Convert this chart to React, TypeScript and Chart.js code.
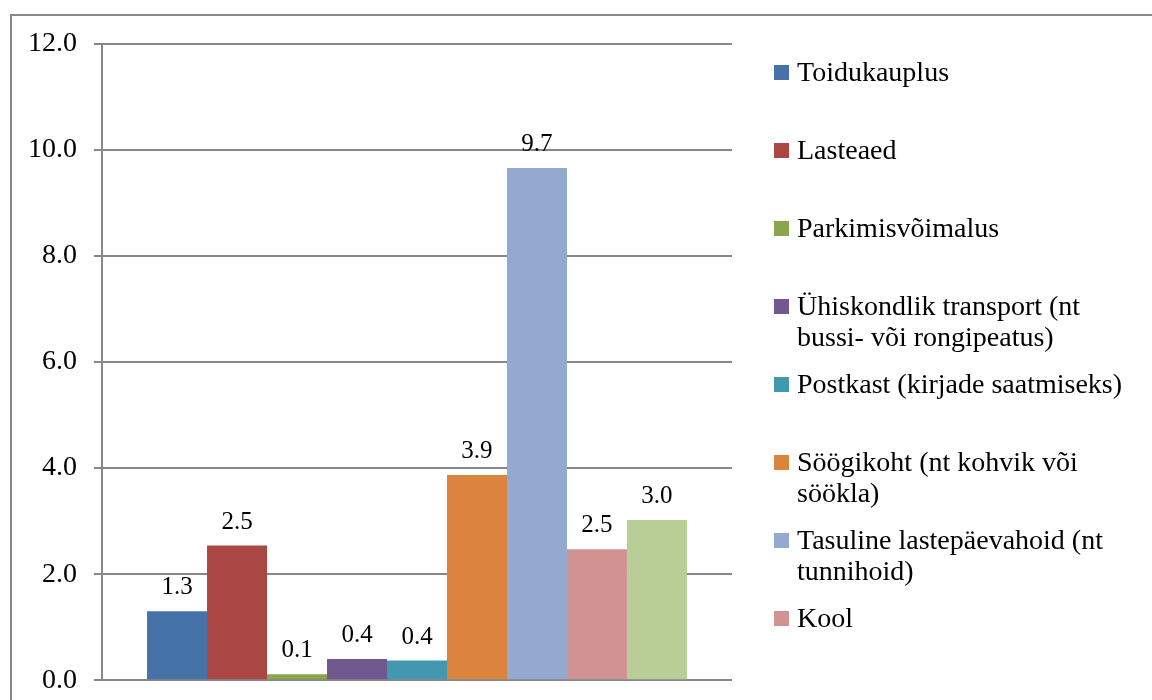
import React, { useEffect, useRef } from "react";
import { Chart, registerables } from "chart.js";

Chart.register(...registerables);

const categories: string[] = [""];
const seriesNames: string[] = [
  "Toidukauplus",
  "Lasteaed",
  "Parkimisvõimalus",
  "Ühiskondlik transport (nt\nbussi- või rongipeatus)",
  "Postkast (kirjade saatmiseks)",
  "Söögikoht (nt kohvik või\nsöökla)",
  "Tasuline lastepäevahoid (nt\ntunnihoid)",
  "Kool",
  "",
];
const seriesValues: number[] = [1.3, 2.54, 0.11, 0.4, 0.37, 3.87, 9.66, 2.47, 3.02];
const seriesColors: string[] = [
  "#4572A7",
  "#AA4643",
  "#89A54E",
  "#71588F",
  "#4198AF",
  "#DB843D",
  "#93A9CF",
  "#D19392",
  "#B9CD96",
];
const yMin = 0;
const yMax = 12;
const yStep = 2;

const SERIF = '"Liberation Serif", "Times New Roman", serif';
const GRID = "#878787";
const VIEW_H = 700;
const CANVAS_H = 714;

const framePlugin = {
  id: "frame",
  beforeDraw(chart: any) {
    const ctx = chart.ctx;
    ctx.save();
    ctx.strokeStyle = GRID;
    ctx.lineWidth = 2;
    ctx.beginPath();
    ctx.moveTo(11, chart.height + 10);
    ctx.lineTo(11, 15);
    ctx.lineTo(chart.width + 10, 15);
    ctx.stroke();
    ctx.restore();
  },
};

const dataLabelPlugin = {
  id: "dataLabels",
  afterDatasetsDraw(chart: any) {
    const ctx = chart.ctx;
    ctx.save();
    ctx.font = `25px ${SERIF}`;
    ctx.fillStyle = "#000000";
    ctx.textAlign = "center";
    ctx.textBaseline = "alphabetic";
    chart.data.datasets.forEach((ds: any, i: number) => {
      const meta = chart.getDatasetMeta(i);
      meta.data.forEach((el: any, j: number) => {
        const v = ds.data[j] as number;
        ctx.fillText(v.toFixed(1), el.x, el.y - 17);
      });
    });
    ctx.restore();
  },
};

const legendPlugin = {
  id: "sideLegend",
  afterDraw(chart: any) {
    const ctx = chart.ctx;
    ctx.save();
    ctx.font = `28px ${SERIF}`;
    ctx.textAlign = "left";
    ctx.textBaseline = "alphabetic";
    chart.data.datasets.forEach((ds: any, i: number) => {
      const baseline = 81 + 78 * i;
      if (baseline > VIEW_H) return;
      ctx.fillStyle = ds.backgroundColor;
      ctx.fillRect(774, baseline - 16, 15, 15);
      ctx.fillStyle = "#000000";
      String(ds.label)
        .split("\n")
        .forEach((line: string, k: number) => {
          ctx.fillText(line, 797, baseline + 31 * k);
        });
    });
    ctx.restore();
  },
};

export default function App() {
  const canvasRef = useRef<HTMLCanvasElement | null>(null);

  useEffect(() => {
    if (!canvasRef.current) return;
    const chart = new Chart(canvasRef.current, {
      type: "bar",
      data: {
        labels: categories,
        datasets: seriesNames.map((name, i) => ({
          label: name,
          data: [seriesValues[i]],
          backgroundColor: seriesColors[i],
          borderWidth: 0,
          categoryPercentage: 0.857,
          barPercentage: 1,
        })),
      },
      options: {
        responsive: false,
        animation: false,
        devicePixelRatio: 1,
        layout: { padding: { left: 0, top: 44, right: 420, bottom: 6 } },
        plugins: {
          legend: { display: false },
          tooltip: { enabled: false },
          title: { display: false },
        },
        scales: {
          x: { display: false },
          y: {
            min: yMin,
            max: yMax,
            ticks: {
              stepSize: yStep,
              padding: 17,
              color: "#000000",
              font: { family: SERIF, size: 28 },
              callback: (v: any) => Number(v).toFixed(1),
            },
            grid: {
              color: GRID,
              lineWidth: 2,
              tickLength: 8,
              drawTicks: true,
            },
            border: { display: true, color: GRID, width: 2 },
            afterFit: (s: any) => {
              s.width = 102;
            },
          },
        },
      },
      plugins: [framePlugin, dataLabelPlugin, legendPlugin],
    });
    return () => chart.destroy();
  }, []);

  return (
    <div
      style={{
        position: "fixed",
        left: 0,
        top: 0,
        width: 1152,
        height: VIEW_H,
        overflow: "hidden",
        background: "#ffffff",
      }}
    >
      <canvas
        ref={canvasRef}
        width={1152}
        height={CANVAS_H}
        style={{ width: 1152, height: CANVAS_H, display: "block" }}
      />
    </div>
  );
}
